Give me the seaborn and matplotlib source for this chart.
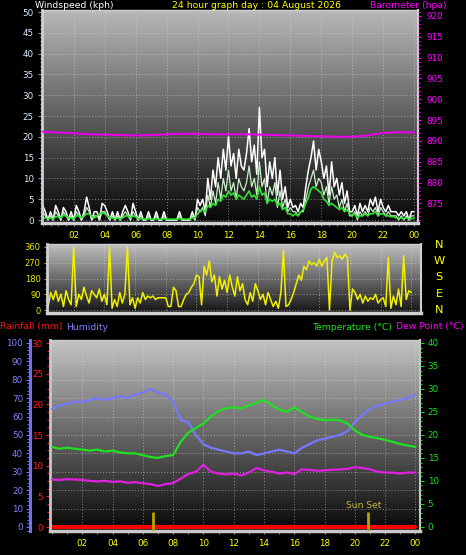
import matplotlib
matplotlib.use("Agg")
import matplotlib.pyplot as plt
from matplotlib.colors import LinearSegmentedColormap
from matplotlib.ticker import MultipleLocator, FixedLocator, NullFormatter
from matplotlib.transforms import blended_transform_factory
import numpy as np
import seaborn as sns

# ---- data -----------------------------------------------------------------
# 10-minute readings, 00:00 .. 24:00
wind_gust = [
    3.5, 2, 0, 2, 0, 3.5,
    2, 0, 3, 2, 0, 2,
    0, 3.5, 2, 0, 2, 5.5,
    3, 0, 2, 2, 0, 4,
    3.5, 2, 0, 2, 0, 2,
    0, 2, 3.5, 2, 0, 4,
    2, 0, 2, 0, 0, 2,
    0, 0, 2, 0, 0, 2,
    0, 0, 0, 0, 0, 2,
    0, 0, 0, 0, 2, 0,
    5, 3.5, 5, 2, 10, 5,
    12, 8, 15, 10, 17, 12,
    20, 13, 16, 10, 17, 13,
    12, 16, 22, 14, 18, 11,
    27, 15, 17, 8, 14, 10,
    15, 6, 12, 5, 8, 3,
    5, 3, 3.5, 2, 4, 3,
    8, 12, 15, 19, 12, 17,
    14, 10, 13, 6, 14, 8,
    10, 6, 9, 4, 7, 2,
    2, 3.5, 1, 4, 2, 3.5,
    2, 5, 3.5, 5.5, 2, 5,
    3, 2, 3.5, 2, 2, 2,
    1, 2, 1, 2, 0, 2,
    2,
]
wind_speed = [
    2, 1, 0, 1, 0, 2,
    1, 0, 2, 1, 0, 1,
    0, 2, 1, 0, 1, 3,
    2, 0, 1, 1, 0, 2,
    2, 1, 0, 1, 0, 1,
    0, 1, 2, 1, 0, 2,
    1, 0, 1, 0, 0, 1,
    0, 0, 1, 0, 0, 1,
    0, 0, 0, 0, 0, 1,
    0, 0, 0, 0, 1, 0,
    3, 2, 3, 1, 6, 3,
    7, 4, 9, 5, 10, 7,
    12, 7, 9, 5, 10, 8,
    7, 9, 13, 8, 10, 6,
    14, 8, 10, 4, 8, 6,
    9, 3, 7, 3, 5, 2,
    3, 2, 2, 1, 2, 2,
    5, 8, 10, 12, 8, 10,
    9, 6, 8, 4, 8, 5,
    6, 3, 5, 2, 4, 1,
    1, 2, 0, 2, 1, 2,
    1, 3, 2, 3, 1, 3,
    2, 1, 2, 1, 1, 1,
    0, 1, 0, 1, 0, 1,
    1,
]
wind_avg = [
    0.5, 0.5, 0.3, 0.5, 0.3, 0.8,
    0.8, 0.5, 1.2, 1, 0.5, 0.5,
    0.3, 1, 1, 0.5, 1, 1.5,
    1.5, 0.8, 0.5, 1, 1.5, 1.8,
    1.5, 1, 0.5, 0.5, 0.3, 0.5,
    0.3, 0.5, 1, 1, 0.5, 1,
    0.8, 0.3, 0.3, 0.3, 0.2, 0.3,
    0.2, 0.2, 0.3, 0.2, 0.2, 0.3,
    0.2, 0.2, 0.2, 0.2, 0.2, 0.3,
    0.3, 0.2, 0.2, 0.3, 0.5, 0.5,
    1.5, 2, 2.5, 2, 3.5, 3,
    4, 3.5, 5, 4.5, 6, 5.5,
    7, 6, 6.5, 5, 6, 5.5,
    5, 6, 7, 5.5, 6, 5,
    8, 6, 6.5, 4, 5, 4.5,
    5, 3.5, 4, 2.5, 3, 1.5,
    1.5, 1, 1.5, 1, 2, 2.5,
    4, 5.5, 7.5, 8, 7.5, 7,
    6.5, 5, 4.5, 3.5, 4, 3.5,
    3, 2.5, 3, 2, 2.5, 1.5,
    1, 1.5, 0.5, 1, 1, 1.5,
    1, 1.5, 1.5, 2, 1, 1.5,
    1.5, 1, 1, 0.8, 0.8, 0.5,
    0.5, 0.5, 0.3, 0.5, 0.3, 0.3,
    0.5,
]
wind_dir = [
    40, 80, 20, 100, 60, 110,
    50, 90, 20, 110, 60, 30,
    360, 20, 90, 60, 130, 80,
    40, 110, 90, 70, 120, 50,
    90, 30, 360, 10, 60, 20,
    100, 40, 90, 360, 30, 70,
    10, 70, 40, 100, 60, 80,
    70, 80, 60, 70, 70, 70,
    70, 20, 20, 130, 110, 20,
    20, 60, 90, 100, 130, 150,
    200, 190, 30, 250, 200, 280,
    160, 200, 80, 190, 120, 170,
    100, 200, 130, 80, 190, 110,
    150, 60, 30, 100, 50, 150,
    110, 60, 90, 30, 100, 60,
    20, 50, 10, 100, 340, 20,
    30, 60, 100, 150, 200, 170,
    250, 230, 280, 260, 270, 250,
    290, 250, 280, 300, 0, 280,
    330, 300, 310, 290, 320, 300,
    0, 120, 100, 60, 90, 40,
    80, 50, 70, 60, 90, 40,
    60, 70, 20, 300, 10, 80,
    30, 120, 20, 310, 60, 110,
    100,
]
time_10min = [i / 6 for i in range(len(wind_gust))]

# hourly barometer (hPa)
barometer = [892.2, 892.0, 891.8, 891.6, 891.5, 891.4, 891.3, 891.4, 891.6,
             891.7, 891.7, 891.6, 891.6, 891.6, 891.5, 891.4, 891.3, 891.2,
             891.1, 891.0, 891.0, 891.3, 891.9, 892.1, 892.0]
time_hour = list(range(len(barometer)))

# half-hourly readings
humidity = [64, 66, 67, 68, 68, 69, 70, 69, 70, 71, 70, 72, 73, 75, 73, 72,
            68, 58, 57, 50, 45, 43, 42, 41, 40, 40, 41, 39, 40, 41, 42, 41,
            40, 43, 45, 47, 48, 49, 50, 52, 57, 61, 64, 66, 67, 68, 69, 70, 72]
temperature = [17.4, 17.0, 17.2, 17.0, 16.8, 16.6, 16.8, 16.4, 16.6, 16.2,
               16.0, 16.0, 15.6, 15.2, 15.0, 15.4, 15.6, 18.5, 20.5, 21.5,
               22.5, 24.0, 25.2, 25.8, 26.0, 25.8, 26.4, 27.0, 27.6, 26.5,
               25.5, 25.0, 26.0, 25.0, 24.0, 23.5, 23.2, 23.3, 23.2, 22.5,
               21.0, 20.0, 19.6, 19.3, 18.9, 18.5, 18.0, 17.7, 17.4]
dew_point = [10.3, 10.2, 10.4, 10.3, 10.2, 10.0, 9.9, 10.0, 9.8, 9.9, 9.6,
             9.7, 9.5, 9.3, 8.9, 9.3, 9.5, 10.5, 11.5, 12.0, 13.5, 12.0,
             11.6, 11.4, 11.6, 11.2, 11.8, 12.8, 12.3, 12.0, 11.6, 11.8,
             11.5, 12.5, 12.4, 12.2, 12.3, 12.4, 12.5, 12.6, 13.0, 12.8,
             12.5, 12.0, 11.8, 11.8, 11.6, 11.8, 11.8]
rainfall = [0.0] * len(humidity)
time_30min = [i / 2 for i in range(len(humidity))]

sunrise_hour = 6.7
sunset_hour = 20.85

hour_ticks = [2, 4, 6, 8, 10, 12, 14, 16, 18, 20, 22, 24]
hour_labels = ["02", "04", "06", "08", "10", "12", "14", "16", "18", "20", "22", "00"]
humidity_grid = [10, 20, 30, 40, 50, 60, 70, 80, 90]
compass = ["N", "W", "S", "E", "N"]

# ---- styling --------------------------------------------------------------
sns.set_style("dark")
plt.rcParams["font.family"] = ["DejaVu Sans"]
plt.rcParams["axes.facecolor"] = "black"

W, H = 466, 555
TICK_FS = 6.3
TITLE_FS = 6.7
GRID = dict(color="#d8d8d8", linestyle=(0, (1, 2)), linewidth=0.7, alpha=0.55)


def box(l, t, r, b):
    return [l / W, 1 - b / H, (r - l) / W, (b - t) / H]


def backdrop(ax, top, bottom):
    cmap = LinearSegmentedColormap.from_list("bg", [bottom, top])
    grad = np.linspace(0, 1, 256).reshape(-1, 1)
    ax.imshow(grad, extent=[0, 1, 0, 1], transform=ax.transAxes, origin="lower",
              cmap=cmap, aspect="auto", zorder=0, interpolation="bilinear")


def frame(ax, color="#d0d0d0"):
    for side, lw in (("left", 2), ("bottom", 2.5), ("top", 1), ("right", 1.5)):
        ax.spines[side].set_visible(True)
        ax.spines[side].set_color(color)
        ax.spines[side].set_linewidth(lw)


fig = plt.figure(figsize=(W / 100, H / 100), dpi=100, facecolor="black")

# ---- wind speed / barometer ----------------------------------------------
ax1 = fig.add_axes(box(42, 10, 418, 223))
backdrop(ax1, "#b8b8b8", "#060606")
sns.lineplot(x=time_10min, y=wind_gust, ax=ax1, color="white", linewidth=1.1, errorbar=None)
sns.lineplot(x=time_10min, y=wind_speed, ax=ax1, color="#c8f0c8", linewidth=0.9, errorbar=None)
sns.lineplot(x=time_10min, y=wind_avg, ax=ax1, color="#30e030", linewidth=1.2, errorbar=None)
ax1.set_xlim(-0.05, 24.25)
ax1.set_ylim(-0.72, 50.5)
ax1.yaxis.set_major_locator(MultipleLocator(5))
ax1.yaxis.set_minor_locator(MultipleLocator(1))
ax1.xaxis.set_major_locator(FixedLocator(hour_ticks))
ax1.set_xticklabels(hour_labels)
ax1.xaxis.set_minor_locator(MultipleLocator(0.5))
ax1.grid(True, which="major", **GRID)
ax1.tick_params(axis="y", which="both", left=True, colors="#8090b0", labelcolor="#d8ecff",
                labelsize=TICK_FS, length=3, width=0.8, pad=3)
ax1.tick_params(axis="y", which="minor", length=1.5)
ax1.tick_params(axis="x", which="both", bottom=True, colors="#909090", labelcolor="#ffff00",
                labelsize=TICK_FS, length=2, pad=3.5)
ax1.set_xlabel("")
ax1.set_ylabel("")
frame(ax1)

ax1b = ax1.twinx()
sns.lineplot(x=time_hour, y=barometer, ax=ax1b, color="#e800e8", linewidth=1.5, errorbar=None)
ax1b.set_ylim(870.3, 921.4)
ax1b.yaxis.set_major_locator(FixedLocator([875, 880, 885, 890, 895, 900, 905, 910, 915, 920]))
ax1b.yaxis.set_minor_locator(MultipleLocator(1))
ax1b.tick_params(axis="y", which="both", right=True, colors="#ff00ff", labelcolor="#ff00ff",
                 labelsize=TICK_FS, length=2.5, width=0.8, pad=3.5)
ax1b.tick_params(axis="y", which="minor", length=1.5)
ax1b.set_ylabel("")
ax1b.grid(False)
for s in ax1b.spines.values():
    s.set_visible(False)

# ---- wind direction -------------------------------------------------------
ax2 = fig.add_axes(box(47, 244, 421, 313))
backdrop(ax2, "#c0c0c0", "#141414")
sns.lineplot(x=time_10min, y=wind_dir, ax=ax2, color="#f0f000", linewidth=1.1, errorbar=None)
ax2.set_xlim(0.26, 24.63)
ax2.set_ylim(-17, 377)
ax2.yaxis.set_major_locator(FixedLocator([0, 90, 180, 270, 360]))
ax2.yaxis.set_minor_locator(MultipleLocator(30))
ax2.xaxis.set_major_locator(FixedLocator(hour_ticks))
ax2.xaxis.set_major_formatter(NullFormatter())
ax2.grid(True, which="major", **GRID)
ax2.tick_params(axis="y", which="both", left=True, colors="#a0a060", labelcolor="#e8e800",
                labelsize=TICK_FS - 0.3, length=2.5, pad=2)
ax2.tick_params(axis="y", which="minor", length=1.5)
ax2.tick_params(axis="x", bottom=False, length=0)
ax2.set_xlabel("")
ax2.set_ylabel("")
frame(ax2)
for i, letter in enumerate(compass):
    fig.text(439 / W, 1 - (245 + i * 16.2) / H, letter, color="#ffff00", fontsize=8.2,
             ha="center", va="center")

# ---- rain / humidity / temperature / dew point ---------------------------
ax3 = fig.add_axes(box(50, 340, 420, 531))
backdrop(ax3, "#c4c4c4", "#060606")
ax_h = ax3.twinx()
ax_t = ax3.twinx()

sns.lineplot(x=time_30min, y=rainfall, ax=ax3, color="#ff0000", linewidth=3, errorbar=None)
ax3.vlines([sunrise_hour, sunset_hour], -0.6, 2.5, color="#b8a400", linewidth=2, zorder=3)
ax3.text(sunset_hour - 0.3, 2.85, "Sun Set", color="#c8b83c", fontsize=6.6, ha="center", va="bottom")
ax3.set_xlim(-0.13, 24.3)
ax3.set_ylim(-0.65, 30.5)
ax3.yaxis.set_major_locator(MultipleLocator(5))
ax3.yaxis.set_minor_locator(MultipleLocator(1.25))
ax3.xaxis.set_major_locator(FixedLocator(hour_ticks))
ax3.set_xticklabels(hour_labels)
ax3.xaxis.set_minor_locator(MultipleLocator(1))
ax3.grid(True, axis="x", which="major", **GRID)
ax3.tick_params(axis="y", which="both", left=True, colors="#ff2020", labelcolor="#ff2020",
                labelsize=TICK_FS, length=3, width=0.8, pad=2)
ax3.tick_params(axis="y", which="minor", length=2)
ax3.tick_params(axis="x", which="both", bottom=True, colors="#909090", labelcolor="#ffff00",
                labelsize=TICK_FS, length=2, pad=3.5)
ax3.set_xlabel("")
ax3.set_ylabel("")
frame(ax3, "#c8c8c8")

sns.lineplot(x=time_30min, y=humidity, ax=ax_h, color="#7878ff", linewidth=1.6, errorbar=None)
ax_h.set_ylim(-2.2, 101.6)
ax_h.yaxis.set_ticks_position("left")
ax_h.yaxis.set_major_locator(MultipleLocator(10))
ax_h.yaxis.set_minor_locator(MultipleLocator(2))
for s in ax_h.spines.values():
    s.set_visible(False)
ax_h.spines["left"].set_visible(True)
ax_h.spines["left"].set_position(("outward", 14.4))
ax_h.spines["left"].set_color("#7070f0")
ax_h.spines["left"].set_linewidth(2.2)
ax_h.tick_params(axis="y", which="both", left=True, right=False, labelleft=True, labelright=False,
                 colors="#7070f0", labelcolor="#8080ff", labelsize=TICK_FS, length=3, width=0.8, pad=2)
ax_h.tick_params(axis="y", which="minor", length=2)
ax_h.grid(False)
ax_h.set_ylabel("")

# humidity grid lines sit on the back axes, under the rain line
hum_tf = blended_transform_factory(ax3.transAxes, ax_h.transData)
for hv in humidity_grid:
    ax3.plot([0, 1], [hv, hv], transform=hum_tf, zorder=1, **GRID)

sns.lineplot(x=time_30min, y=temperature, ax=ax_t, color="#20e020", linewidth=1.6, errorbar=None)
sns.lineplot(x=time_30min, y=dew_point, ax=ax_t, color="#e020e0", linewidth=1.6, errorbar=None)
ax_t.set_ylim(-0.9, 40.65)
ax_t.yaxis.set_major_locator(MultipleLocator(5))
ax_t.yaxis.set_minor_locator(MultipleLocator(1))
for s in ax_t.spines.values():
    s.set_visible(False)
ax_t.tick_params(axis="y", which="both", right=True, colors="#20d020", labelcolor="#20e020",
                 labelsize=TICK_FS, length=3, width=0.8, pad=2.5)
ax_t.tick_params(axis="y", which="minor", length=1.5)
ax_t.grid(False)
ax_t.set_ylabel("")
ax3.set_xlim(-0.13, 24.3)


# ---- headings -------------------------------------------------------------
def head(x, y, s, color, ha="left"):
    fig.text(x / W, 1 - y / H, s, color=color, fontsize=TITLE_FS, ha=ha, va="center")


head(35, 6, "Windspeed (kph)", "white")
head(257, 6, "24 hour graph day : 04 August 2026", "#ffff00", ha="center")
head(446, 6, "Barometer (hpa)", "#ff00ff", ha="right")
head(0, 327, "Rainfall (mm)", "#ff1010")
head(66, 327, "Humidity", "#8080ff")
head(392, 327, "Temperature (°C)", "#20e020", ha="right")
head(464, 327, "Dew Point (°C)", "#ff00ff", ha="right")

fig.savefig("out.png", dpi=100, facecolor="black")
